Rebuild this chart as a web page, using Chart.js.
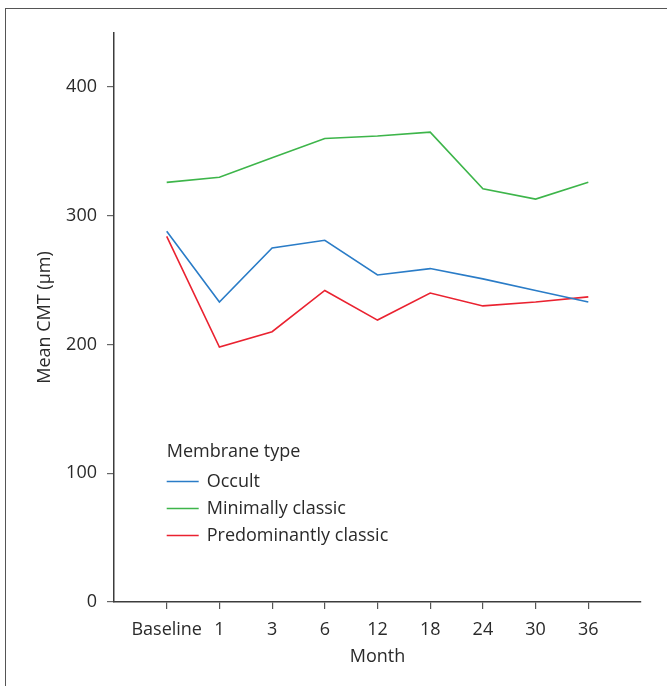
<!DOCTYPE html>
<html>
<head>
<meta charset="utf-8">
<script src="https://cdn.jsdelivr.net/npm/chart.js@4.4.0/dist/chart.umd.min.js"></script>
<style>
    html, body { margin: 0; padding: 0; background: #fff; }
    #wrap { position: relative; width: 667px; height: 686px; overflow: hidden; }
    #frame { position: absolute; left: 5px; top: 8px; width: 720px; height: 720px; border: 1.5px solid #555; box-sizing: border-box; }
    canvas { position: absolute; left: 0; top: 0; }
</style>
</head>
<body>
<div id="wrap">
    <div id="frame"></div>
    <canvas id="chart" width="667" height="686"></canvas>
</div>
<script>
const mois = ['Baseline', '1', '3', '6', '12', '18', '24', '30', '36'];
const occult = [288, 233, 275, 281, 254, 259, 251, 242, 233];
const minimalementClassique = [326, 330, 345, 360, 362, 365, 321, 313, 326];
const predominantClassique = [284, 198, 210, 242, 219, 240, 230, 233, 237];
const ticksY = [0, 100, 200, 300, 400];

const couleurs = { occult: '#2a7cc7', minimal: '#3db54a', predom: '#ea2230' };
const police = "'Open Sans', sans-serif";
const texte = '#2a2a2a';
const axe = '#3c3c3c';

// --- Légende dessinée dans la zone du graphique ---
const legendePlugin = {
    id: 'legendeInterne',
    afterDraw(chart) {
        const { ctx, scales } = chart;
        const x0 = scales.x.getPixelForValue(0);
        const yTitre = scales.y.getPixelForValue(117);
        ctx.save();
        ctx.font = `18px ${police}`;
        ctx.fillStyle = texte;
        ctx.textBaseline = 'middle';
        ctx.fillText('Membrane type', x0, yTitre);
        chart.data.datasets.forEach((ds, i) => {
            const y = yTitre + 30 + i * 27;
            ctx.strokeStyle = ds.borderColor;
            ctx.lineWidth = 1.5;
            ctx.beginPath();
            ctx.moveTo(x0, y);
            ctx.lineTo(x0 + 32, y);
            ctx.stroke();
            ctx.fillStyle = texte;
            ctx.fillText(ds.label, x0 + 40, y);
        });
        ctx.restore();
    }
};

const enPoints = serie => serie.map((v, i) => ({ x: i, y: v }));

new Chart(document.getElementById('chart'), {
    type: 'line',
    data: {
        datasets: [
            { label: 'Occult', data: enPoints(occult), borderColor: couleurs.occult },
            { label: 'Minimally classic', data: enPoints(minimalementClassique), borderColor: couleurs.minimal },
            { label: 'Predominantly classic', data: enPoints(predominantClassique), borderColor: couleurs.predom }
        ]
    },
    options: {
        responsive: false,
        animation: false,
        elements: {
            line: { borderWidth: 1.6, tension: 0, fill: false },
            point: { radius: 0 }
        },
        layout: { padding: { left: 0, top: 33, right: 26, bottom: 14 } },
        plugins: {
            legend: { display: false },
            tooltip: { enabled: false }
        },
        scales: {
            x: {
                type: 'linear',
                min: -1,
                max: 9,
                afterBuildTicks: s => { s.ticks = mois.map((_, i) => ({ value: i })); },
                afterFit: s => { s.height = 70; },
                ticks: {
                    callback: val => mois[val],
                    font: { family: police, size: 18 },
                    color: texte,
                    padding: 10,
                    maxRotation: 0,
                    autoSkip: false
                },
                grid: { drawOnChartArea: false, drawTicks: true, tickLength: 7, color: '#555', lineWidth: 1.2 },
                border: { display: true, color: axe, width: 1.5 },
                title: {
                    display: true,
                    text: 'Month',
                    font: { family: police, size: 18 },
                    color: texte,
                    padding: { top: 0 }
                }
            },
            y: {
                min: 0,
                max: 442,
                afterBuildTicks: s => { s.ticks = ticksY.map(v => ({ value: v })); },
                afterFit: s => { s.width = 114; },
                ticks: {
                    font: { family: police, size: 18 },
                    color: texte,
                    padding: 10
                },
                grid: { drawOnChartArea: false, drawTicks: true, tickLength: 7, color: '#666', lineWidth: 1.2 },
                border: { display: true, color: axe, width: 1.5 },
                title: {
                    display: true,
                    text: 'Mean CMT (µm)',
                    font: { family: police, size: 18 },
                    color: texte,
                    padding: { top: 34 }
                }
            }
        }
    },
    plugins: [legendePlugin]
});
</script>
</body>
</html>
